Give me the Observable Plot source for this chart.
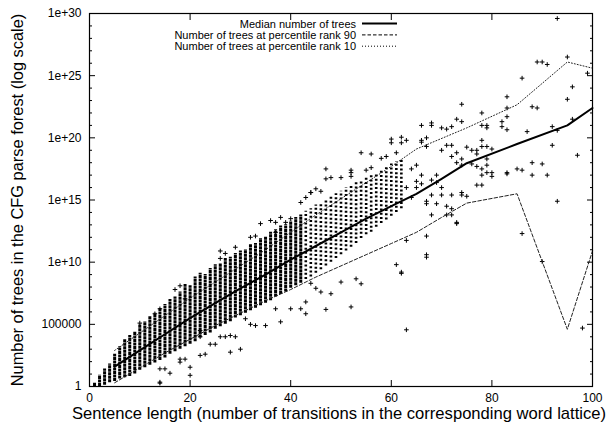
<!DOCTYPE html>
<html><head><meta charset="utf-8">
<script src="https://cdn.jsdelivr.net/npm/d3@7"></script>
<script src="https://cdn.jsdelivr.net/npm/@observablehq/plot@0.6"></script>
<style>
body{margin:0;background:#fff;}
svg{display:block;font-family:"Liberation Sans",Arial,Helvetica,sans-serif;}
</style>
</head><body><div id="chart"></div>
<script>
// ---------- data (log10 of number of trees) ----------
// dense columns of points (one per sentence length): lowest / highest log10 value
const denseX  = [1,2,3,4,5,6,7,8,9,10,11,12,13,14,15,16,17,18,19,20,21,22,23,24,25,26,27,28,29,30,31,32,33,34,35,36,37,38,39,40,41,42];
const denseLo = [0,0,0.1,0.3,0.4,0.6,0.7,0.8,1.0,1.3,1.5,1.7,1.9,2.1,2.3,2.6,2.8,3.0,3.2,3.4,3.6,3.9,4.1,4.3,4.6,4.8,5.0,5.2,5.5,5.7,5.9,6.1,6.3,6.5,6.7,6.9,7.2,7.4,7.6,7.9,8.1,8.3];
const denseHi = [0.3,0.9,1.4,1.8,2.6,3.2,3.8,4.1,4.4,5.0,5.2,5.6,5.9,6.3,6.6,7.0,7.2,7.6,8.2,8.1,8.8,9.1,9.0,9.5,9.8,9.9,10.3,10.4,10.7,10.9,11.0,11.4,11.5,11.9,12.0,12.4,12.6,12.9,13.0,13.3,13.6,13.8];
// looser columns (points visible individually)
const looseX  = [43,44,45,46,47,48,49,50,51,52,53,54,55,56,57,58,59,60,61,62];
const looseLo = [8.6,8.8,9.1,9.4,9.7,10.0,10.3,10.6,10.9,11.2,11.5,11.9,12.2,12.4,12.8,13.1,13.4,13.7,14.0,14.3];
const looseHi = [14.1,14.3,14.6,14.8,15.0,15.3,15.5,15.7,16.0,16.2,16.4,16.6,16.8,17.0,17.2,17.4,17.6,17.9,18.1,18.3];
// isolated points
const outX = [14,16,14,15,20,18,23,24,25,28,30,26,27,28,29,43,47,52,61,62,53,54,48,46,50,44,45,
  22,22,32,33,35,38,40,42,43,37,31,
  26,26,27,29,32,33,34,36,37,37,38,39,40,42,43,44,
  10,17,18,19,14,18,19,20,22,13,14,
  66,60,62,63,60,62,54,56,61,59,58,47,52,52,55,56,48,50,52,44,45,46,47,
  93,95,89,90,91,86,96,83,95,88,89,83,74,83,78,73,74,68,68,70,71,72,79,79,78,82,82,83,92,93,87,92,97,88,90,85,86,83,83,88,91,80,79,78,77,78,93,86,90,98,63,67,67,67,62,73,63,99,96,
  66,66,67,67,70,71,72,72,73,73,74,74,75,76,77,77,78,78,79,80,76,77,78,79,79,80,72,74,74,75,70,69,71,72,71,72,73,67,67,68,68,65,65,66,66,68,69,69,70,64,65,63,64];
const outY = [0.27,1.07,1.42,1.42,0.9,1.96,2.6,3.4,3.4,2.76,3.0,4.0,4.0,4.1,4.0,6.8,6.2,6.4,9.8,9.1,8.66,8.26,7.46,7.6,8.4,8.3,7.9,
  4.0,4.5,5.0,4.9,4.9,5.2,6.25,6.25,5.85,6.25,5.45,
  10.9,10.3,10.7,11.2,12.0,12.1,13.1,13.35,13.2,12.4,13.6,13.2,13.5,14.8,15.2,15.6,
  5.1,7.8,8.1,7.05,0.35,2.2,2.2,1.55,2.5,5.85,6.25,
  21.0,19.9,20.05,19.8,19.6,19.6,18.8,18.7,18.8,18.5,18.35,17.5,17.4,17.2,17.4,17.6,16.8,16.8,16.9,15.6,15.9,15.7,16.7,
  29.6,26.5,26.1,26.1,25.9,24.8,24.1,23.3,23.1,22.5,22.4,22.4,22.7,21.7,22.0,21.5,21.3,21.2,21.0,20.8,20.7,20.9,21.0,20.8,21.0,21.3,20.9,20.65,20.9,20.6,20.5,19.4,18.6,18.0,17.9,17.5,17.4,17.2,17.1,17.0,17.0,16.9,17.2,17.0,16.2,16.2,14.9,12.3,10.05,4.7,4.56,10.6,10.4,12.1,9.2,13.2,11.75,25.2,21.5,
  19.8,19.65,20.0,19.3,19.0,19.4,19.4,18.5,18.0,18.8,17.8,18.3,19.25,19.0,19.0,18.7,19.8,19.3,19.3,19.1,17.9,17.7,17.5,18.3,17.8,17.2,15.4,15.6,15.4,15.3,15.4,14.7,14.5,14.3,13.8,13.8,13.1,14.9,14.7,15.4,13.8,16.5,16.0,17.0,16.3,16.6,16.4,17.0,16.0,17.5,17.8,16.0,15.2];
// summary lines
const medX = [5,10,15,20,25,30,35,40,45,50,55,60,65,70,75,85,95,100];
const medY = [1.6,2.9,4.2,5.5,6.7,7.9,9.0,10.2,11.3,12.4,13.5,14.5,15.5,16.7,17.96,19.5,21.0,22.4];
const p90X = [5,10,15,20,25,30,35,40,45,50,55,60,65,70,75,85,95,100];
const p90Y = [0.3,1.5,2.7,3.8,4.9,5.9,6.9,7.8,8.8,9.7,10.6,11.5,12.4,13.6,14.75,15.5,4.6,10.9];
const p10X = [5,10,15,20,25,30,35,40,45,50,55,60,65,75,85,95,100];
const p10Y = [2.9,4.3,5.7,7.1,8.4,9.7,11.0,12.4,13.8,15.1,16.4,17.7,19.1,20.8,22.66,26.1,25.6];
// axes
const xTicks = [0,20,40,60,80,100];
const yMajorExp = [0,5,10,15,20,25,30];
const yMajorLabels = ["1","100000","1e+10","1e+15","1e+20","1e+25","1e+30"];
const yMinorExp = [1,2,3,4,6,7,8,9,11,12,13,14,16,17,18,19,21,22,23,24,26,27,28,29];
const legendLabels = ["Median number of trees","Number of trees at percentile rank 90","Number of trees at percentile rank 10"];

// ---------- build ----------
const P = v => Math.pow(10, v);
const dense = denseX.map((x,i)=>({x, y1:P(denseLo[i]), y2:P(denseHi[i])}));
const loose = looseX.map((x,i)=>({x, y1:P(looseLo[i]), y2:P(looseHi[i])}));
const pts = outX.map((x,i)=>({x, y:P(outY[i])}));
const med = medX.map((x,i)=>({x, y:P(medY[i])}));
const p90 = p90X.map((x,i)=>({x, y:P(p90Y[i])}));
const p10 = p10X.map((x,i)=>({x, y:P(p10Y[i])}));
const yMajor = yMajorExp.map(P), yMinor = yMinorExp.map(P);
const labelOf = new Map(yMajor.map((v,i)=>[v, yMajorLabels[i]]));

const chart = Plot.plot({
  width: 610, height: 426,
  marginLeft: 89, marginRight: 18, marginTop: 13, marginBottom: 40,
  style: {fontSize: "12px", fontFamily: "Liberation Sans, Arial, sans-serif", background: "white", color: "black"},
  x: {domain: [0,100]},
  y: {type: "log", domain: [1, 1e30]},
  marks: [
    Plot.ruleX(dense, {x:"x", y1:"y1", y2:"y2", stroke:"black", strokeWidth:3, strokeDasharray:"3,0.5"}),
    Plot.ruleX(loose, {x:"x", y1:"y1", y2:"y2", stroke:"black", strokeWidth:2.6, strokeDasharray:"2,2.2"}),
    Plot.dot(pts, {x:"x", y:"y", symbol:"plus", r:1.6, stroke:"black", strokeWidth:1}),
    Plot.line(p90, {x:"x", y:"y", stroke:"#222", strokeWidth:1, strokeDasharray:"3.5,2"}),
    Plot.line(p10, {x:"x", y:"y", stroke:"#222", strokeWidth:1, strokeDasharray:"1,2"}),
    Plot.line(med, {x:"x", y:"y", stroke:"black", strokeWidth:2}),
    // axes labels
    Plot.axisY(yMajor, {anchor:"left", tickSize:0, tickPadding:8, tickFormat: d=>labelOf.get(d), label:null}),
    Plot.axisX(xTicks, {anchor:"bottom", tickSize:0, tickPadding:7, label:null}),
    // inward ticks
    Plot.axisY(yMajor, {anchor:"left", tickSize:-6, text:null, label:null}),
    Plot.axisY(yMajor, {anchor:"right", tickSize:-6, text:null, label:null}),
    Plot.axisY(yMinor, {anchor:"left", tickSize:-3, text:null, label:null}),
    Plot.axisY(yMinor, {anchor:"right", tickSize:-3, text:null, label:null}),
    Plot.axisX(xTicks, {anchor:"bottom", tickSize:-6, text:null, label:null}),
    Plot.axisX(xTicks, {anchor:"top", tickSize:-6, text:null, label:null}),
    Plot.frame({stroke:"black", strokeWidth:1.2})
  ]
});
document.getElementById("chart").appendChild(chart);

// axis titles and legend
const svg = d3.select(chart);
svg.append("text").attr("x", 339).attr("y", 419).attr("text-anchor","middle")
  .attr("font-size","16.6px").attr("fill","black")
  .text("Sentence length (number of transitions in the corresponding word lattice)");
svg.append("text").attr("transform","translate(23,200) rotate(-90)").attr("text-anchor","middle")
  .attr("font-size","16.4px").attr("fill","black")
  .text("Number of trees in the CFG parse forest (log scale)");
const lg = svg.append("g").attr("font-size","11px");
const dashes = [null, "3.5,2", "1,2"];
const widths = [2, 1, 1];
legendLabels.forEach((t,i)=>{
  const cy = 23.6 + i*11.3;
  lg.append("text").attr("x",356).attr("y",cy+4).attr("text-anchor","end").attr("fill","black").text(t);
  lg.append("line").attr("x1",362).attr("x2",397).attr("y1",cy).attr("y2",cy)
    .attr("stroke","black").attr("stroke-width",widths[i]).attr("stroke-dasharray",dashes[i]);
});
</script></body></html>
